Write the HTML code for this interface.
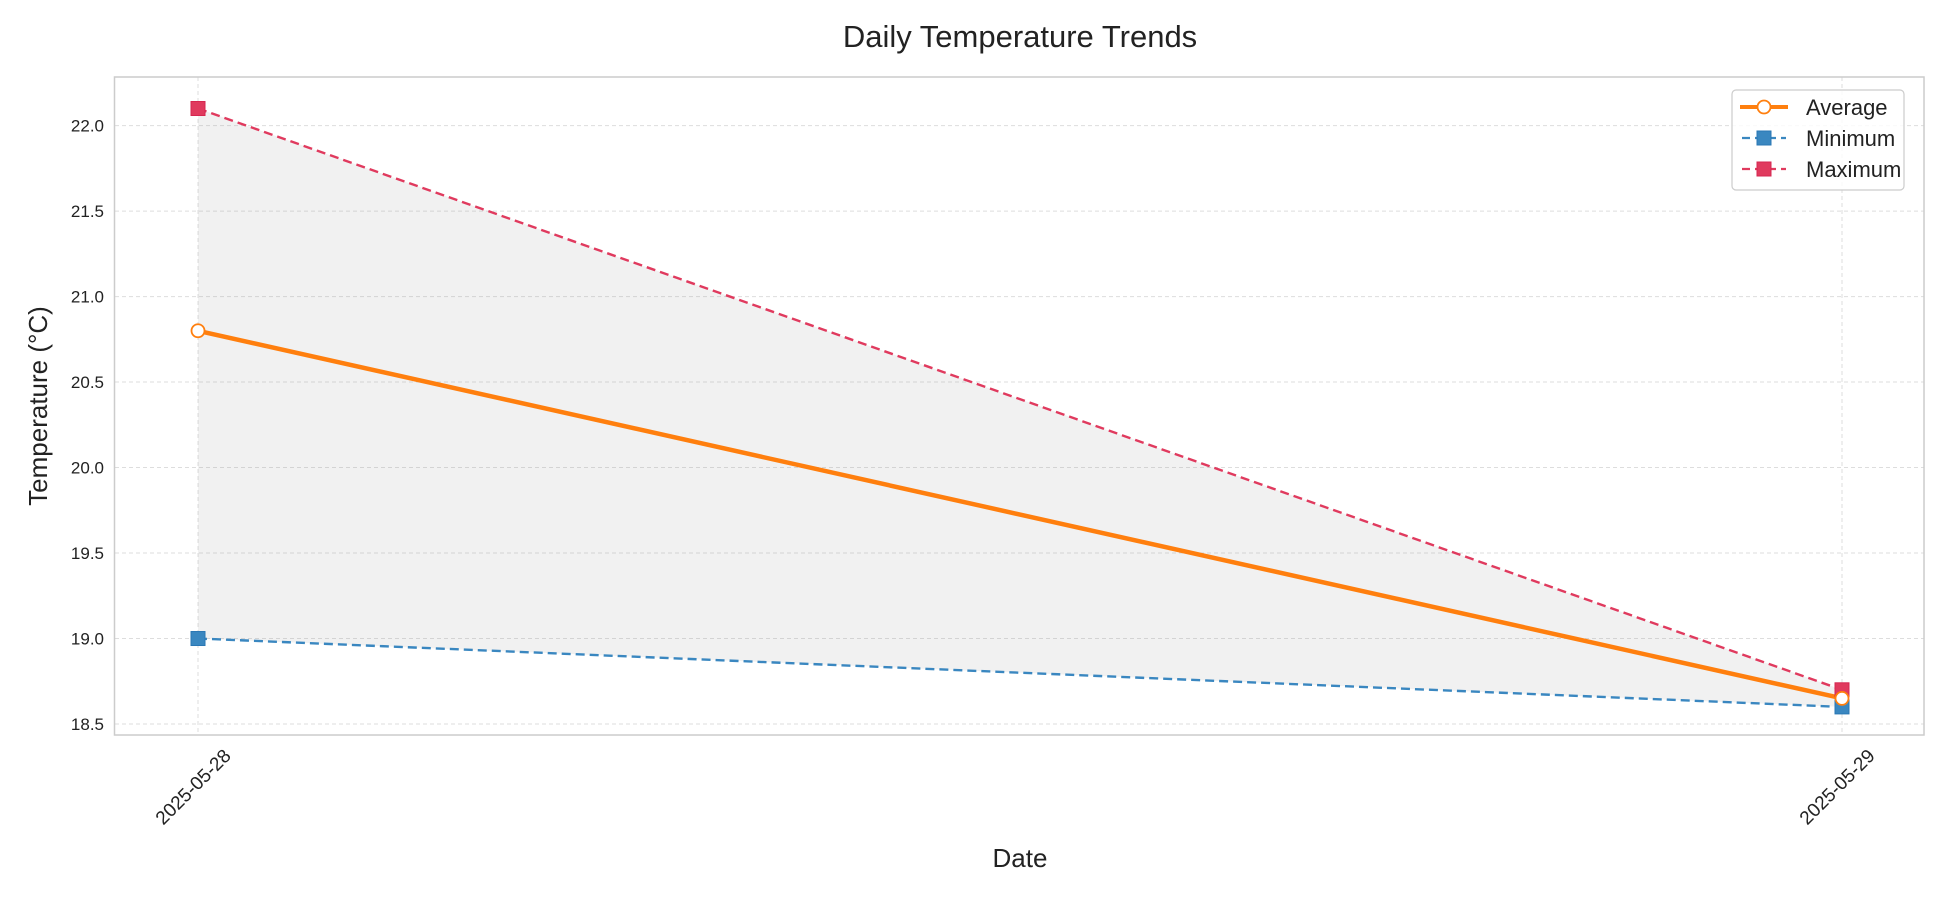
<!DOCTYPE html>
<html><head><meta charset="utf-8"><style>
body{margin:0;background:#fff;}
svg{display:block;font-family:"Liberation Sans",Arial,sans-serif;}
</style></head><body>
<svg id="chart" width="1950" height="900" viewBox="0 0 1950 900">
<text x="1020" y="47" font-size="31" text-anchor="middle" fill="#222">Daily Temperature Trends</text>
<g id="grid"></g>
<g id="plot"></g>
<rect x="114.5" y="77" width="1809.5" height="658" fill="none" stroke="#ccc" stroke-width="1.5"/>
<g id="ticks"></g>
<text x="1020" y="867" font-size="26" text-anchor="middle" fill="#222">Date</text>
<text transform="translate(47,406) rotate(-90)" font-size="26" text-anchor="middle" fill="#222">Temperature (°C)</text>
<g>
<rect x="1732" y="90" width="172" height="100" rx="4" fill="#fff" fill-opacity="0.85" stroke="#ccc" stroke-width="1.2"/>
<g>
<line x1="1740" y1="107" x2="1788" y2="107" stroke="#ff7f0e" stroke-width="4"/>
<circle cx="1764" cy="107" r="6.5" fill="#fff" stroke="#ff7f0e" stroke-width="1.8"/>
<text x="1806" y="115" font-size="22" fill="#222">Average</text></g>
<g>
<line x1="1742" y1="138" x2="1786" y2="138" stroke="#3a87c0" stroke-width="2.2" stroke-dasharray="8,5"/>
<rect x="1757" y="131" width="14" height="14" fill="#3a87c0" stroke="#2a77b4"/>
<text x="1806" y="146" font-size="22" fill="#222">Minimum</text></g>
<g>
<line x1="1742" y1="169" x2="1786" y2="169" stroke="#e03a5e" stroke-width="2.2" stroke-dasharray="8,5"/>
<rect x="1757" y="162" width="14" height="14" fill="#e03a5e" stroke="#d62750"/>
<text x="1806" y="177" font-size="22" fill="#222">Maximum</text></g>
</g>
</svg>
<script>
const dates=["2025-05-28","2025-05-29"];
const avgVals=[20.8,18.65];
const minVals=[19.0,18.6];
const maxVals=[22.1,18.7];
const yTicks=[18.5,19.0,19.5,20.0,20.5,21.0,21.5,22.0];
const NS="http://www.w3.org/2000/svg";
const x0=198,x1=1842;
function xs(i){return x0+(x1-x0)*i/(dates.length-1);}
function ys(v){return 724-(v-18.5)*(724-125.6)/3.5;}
function mk(tag,attrs,parent){const e=document.createElementNS(NS,tag);for(const k in attrs)e.setAttribute(k,attrs[k]);parent.appendChild(e);return e;}
const grid=document.getElementById('grid'),plot=document.getElementById('plot'),ticks=document.getElementById('ticks');
yTicks.forEach(v=>{
 const l=mk('line',{x1:115,x2:1924,y1:ys(v),y2:ys(v),stroke:'#ddd','stroke-width':1,'stroke-dasharray':'4,3'},grid);
 
 
 const t=mk('text',{x:104,y:ys(v)+6,'font-size':17,'text-anchor':'end',fill:'#222'},ticks);
 t.textContent=v.toFixed(1);
 
 
});
dates.forEach((d,i)=>{
 const l=mk('line',{x1:xs(i),x2:xs(i),y1:77,y2:735,stroke:'#ddd','stroke-width':1,'stroke-dasharray':'4,3'},grid);
 
 
 const t=mk('text',{transform:`translate(${xs(i)+34},757) rotate(-45)`,'font-size':19,'text-anchor':'end',fill:'#222'},ticks);
 t.textContent=d;
 
 
});
let pts=dates.map((d,i)=>xs(i)+','+ys(maxVals[i])).concat(dates.map((d,i)=>xs(i)+','+ys(minVals[i])).reverse());
const band=mk('polygon',{points:pts.join(' '),fill:'#999','fill-opacity':0.14},plot);


function series(vals,color,w,dash,name){
 const p=mk('polyline',{points:vals.map((v,i)=>xs(i)+','+ys(v)).join(' '),fill:'none',stroke:color,'stroke-width':w},plot);
 if(dash)p.setAttribute('stroke-dasharray',dash);
 
 
}
series(minVals,'#3a87c0',2.4,'9,5','minimum');
series(maxVals,'#e03a5e',2.4,'9,5','maximum');
series(avgVals,'#ff7f0e',4.5,null,'average');
minVals.forEach((v,i)=>{const r=mk('rect',{x:xs(i)-7,y:ys(v)-7,width:14,height:14,fill:'#3a87c0',stroke:'#2a77b4'},plot);
 
 });
maxVals.forEach((v,i)=>{const r=mk('rect',{x:xs(i)-7,y:ys(v)-7,width:14,height:14,fill:'#e03a5e',stroke:'#d62750'},plot);
 
 });
avgVals.forEach((v,i)=>{const c=mk('circle',{cx:xs(i),cy:ys(v),r:6.5,fill:'#fff',stroke:'#ff7f0e','stroke-width':1.8},plot);
 
 });
</script>
</body></html>
